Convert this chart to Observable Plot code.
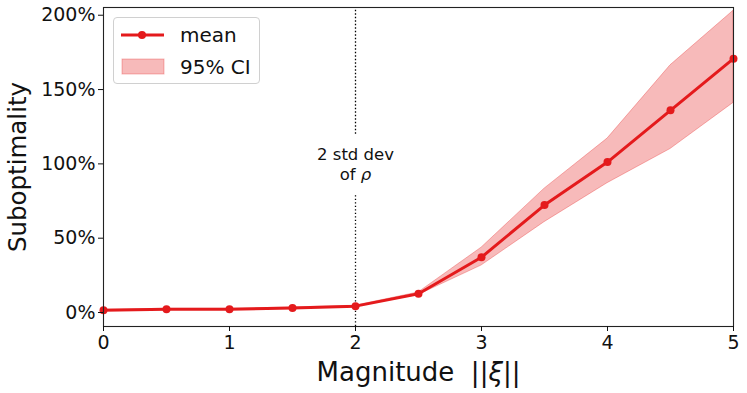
<!DOCTYPE html>
<html><head><meta charset="utf-8">
<script src="https://cdn.jsdelivr.net/npm/d3@7"></script>
<script src="https://cdn.jsdelivr.net/npm/@observablehq/plot@0.6"></script>
<style>
body{margin:0;background:#fff;font-family:"DejaVu Sans",sans-serif;}
#wrap{position:relative;width:747px;height:393px;}
#legend{position:absolute;left:113px;top:17px;width:145px;height:65px;border:1px solid #d0d0d0;border-radius:4px;background:rgba(255,255,255,0.85);}
.lrow{position:absolute;left:0;display:flex;align-items:center;font-size:20px;color:#111;}
</style></head>
<body><div id="wrap"><div id="legend">
<div class="lrow" style="top:5px;height:24px"><svg width="66" height="24"><line x1="7" x2="50" y1="12" y2="12" stroke="#e41a1c" stroke-width="3"/><circle cx="28" cy="12" r="4" fill="#e41a1c"/></svg><span>mean</span></div>
<div class="lrow" style="top:36px;height:26px"><svg width="66" height="26"><rect x="8" y="5" width="42" height="15" fill="#e41a1c" fill-opacity="0.3" stroke="#e41a1c" stroke-opacity="0.3"/></svg><span>95% CI</span></div>
</div></div>
<script>
const xs = [0, 0.5, 1, 1.5, 2, 2.5, 3, 3.5, 4, 4.5, 5];
const mean = [1.6, 2.2, 2.2, 3.1, 4.3, 12.6, 37.2, 72.3, 101.2, 136, 170.8];
const lower = [1.3, 1.9, 1.9, 2.8, 4.0, 11.8, 31.6, 60.8, 87, 110, 141];
const upper = [1.9, 2.5, 2.5, 3.4, 4.6, 13.5, 43.6, 83.3, 117, 166.3, 203];
const xTicks = [0, 1, 2, 3, 4, 5];
const yTicks = [0, 50, 100, 150, 200];
const refX = 2;
const refGap = [80, 120];
const refLabel = "2 std dev\nof ρ";
const refLabelY = 100;
const xLabel = "Magnitude  ||ξ||";
const yLabel = "Suboptimality";

const data = xs.map((x, i) => ({x, mean: mean[i], lo: lower[i], hi: upper[i]}));
const red = "#e41a1c";
const yDomain = [-9.4, 205.2];

const chart = Plot.plot({
  width: 747, height: 393,
  marginLeft: 103, marginRight: 14, marginTop: 7, marginBottom: 67,
  style: {fontFamily: "DejaVu Sans", background: "white", color: "#111"},
  x: {domain: [0, 5]},
  y: {domain: yDomain},
  marks: [
    Plot.areaY(data, {x: "x", y1: "lo", y2: "hi", fill: red, fillOpacity: 0.3, stroke: red, strokeOpacity: 0.3}),
    Plot.ruleX([refX], {y1: yDomain[0], y2: refGap[0], stroke: "#000", strokeWidth: 1.3, strokeDasharray: "1.3,2.2"}),
    Plot.ruleX([refX], {y1: refGap[1], y2: yDomain[1], stroke: "#000", strokeWidth: 1.3, strokeDasharray: "1.3,2.2"}),
    Plot.text([refLabel], {x: refX, y: refLabelY, fontSize: 16.5, lineHeight: 1.2, fill: "#111"}),
    Plot.line(data, {x: "x", y: "mean", stroke: red, strokeWidth: 3}),
    Plot.dot(data, {x: "x", y: "mean", r: 4, fill: red}),
    Plot.frame({stroke: "#222", strokeWidth: 1.1}),
    Plot.axisX({ticks: xTicks, tickFormat: d => String(d), tickSize: 5, tickPadding: 4, fontSize: 19, label: null}),
    Plot.axisY({ticks: yTicks, tickFormat: d => d + "%", tickSize: 5, tickPadding: 3, fontSize: 19, label: null}),
    Plot.text([xLabel], {frameAnchor: "bottom", textAnchor: "middle", lineAnchor: "bottom", dy: 54, fontSize: 26, fill: "#111"}),
    Plot.text([yLabel], {frameAnchor: "left", textAnchor: "middle", lineAnchor: "middle", rotate: -90, dx: -85, fontSize: 24.5, fill: "#111"})
  ]
});
document.getElementById("wrap").prepend(chart);

// italic Greek letters
chart.querySelectorAll("text, tspan").forEach(el => {
  if (el.children.length === 0) {
    const t = el.textContent;
    if (t.includes("ρ") || t.includes("ξ")) {
      const html = t.replace(/ /g, "\u00a0").replace(/([ρξ])/g, '<tspan font-style="italic">$1</tspan>');
      el.innerHTML = html;
    }
  }
});
</script>
</body></html>
